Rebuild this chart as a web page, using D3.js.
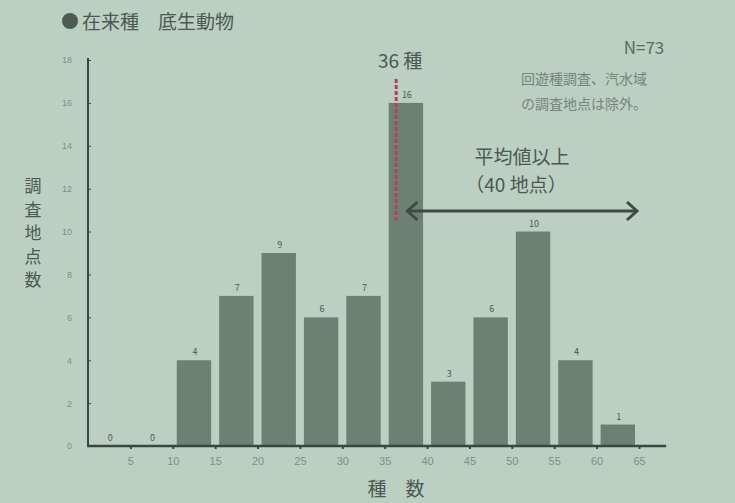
<!DOCTYPE html>
<html><head><meta charset="utf-8">
<script src="https://cdn.jsdelivr.net/npm/d3@7"></script>
<style>
html,body{margin:0;padding:0;background:#bbd0c2;}
svg{display:block;font-family:"Noto Sans CJK JP","Noto Sans",sans-serif;}
</style></head>
<body>
<svg id="c" width="735" height="503"></svg>
<script>
const binStarts = [0,5,10,15,20,25,30,35,40,45,50,55,60];
const counts = [0,0,4,7,9,6,7,16,3,6,10,4,1];
const xTicks = [5,10,15,20,25,30,35,40,45,50,55,60,65];
const yTicks = [0,2,4,6,8,10,12,14,16,18];
const meanSpecies = 36;
const aboveMeanRange = [36.5, 65];
const title = "在来種　底生動物";
const yTitle = ["調","査","地","点","数"];
const xTitle = "種　数";
const noteN = "N=73";
const noteLines = ["回遊種調査、汽水域","の調査地点は除外。"];
const meanLabel = "36 種";
const aboveLines = ["平均値以上","（40 地点）"];

const svg = d3.select("#c");
const bg = "#bbd0c2", barCol = "#6d8074", ink = "#4c5852", faint = "#7f8d86";
svg.append("rect").attr("width",735).attr("height",503).attr("fill",bg);

const x = d3.scaleLinear().domain([0,65]).range([88,639]);
const y = d3.scaleLinear().domain([0,18]).range([446,60]);
const gap = 4;

// bars
svg.selectAll("rect.bar").data(counts).enter().append("rect")
  .attr("class","bar")
  .attr("x",(d,i)=>x(binStarts[i])+gap)
  .attr("width",(d,i)=>x(binStarts[i]+5)-x(binStarts[i])-2*gap)
  .attr("y",d=>y(d))
  .attr("height",d=>y(0)-y(d))
  .attr("fill",barCol);

// bar labels
svg.selectAll("text.bl").data(counts).enter().append("text")
  .attr("x",(d,i)=>x(binStarts[i]+2.5)+1)
  .attr("y",d=>y(d)-5)
  .attr("text-anchor","middle")
  .attr("font-size",9)
  .attr("fill",ink)
  .text(d=>d);

// axes
const yAxis = d3.axisLeft(y).tickValues(yTicks).tickSize(-3).tickPadding(16);
const gy = svg.append("g").attr("transform","translate(88,0)").call(yAxis);
gy.select(".domain").remove();
gy.selectAll(".tick line").attr("stroke","#3f4a44");
gy.selectAll(".tick text").attr("font-size",9).attr("fill",faint).attr("font-family","Liberation Sans, sans-serif");
svg.append("line").attr("x1",88).attr("x2",88).attr("y1",y(18)-2).attr("y2",y(0))
  .attr("stroke","#3a4640").attr("stroke-width",2);

const xAxis = d3.axisBottom(x).tickValues(xTicks).tickSize(3).tickPadding(8);
const gx = svg.append("g").attr("transform",`translate(0,${y(0)})`).call(xAxis);
gx.select(".domain").remove();
gx.selectAll(".tick line").attr("stroke","#3a4640").attr("stroke-width",2);
gx.selectAll(".tick text").attr("font-size",11).attr("fill",faint).attr("font-family","Liberation Sans, sans-serif");
svg.append("line").attr("x1",87).attr("x2",x(68.2)).attr("y1",y(0)).attr("y2",y(0))
  .attr("stroke","#3a4640").attr("stroke-width",2.5);

// title
svg.append("circle").attr("cx",70).attr("cy",21).attr("r",8).attr("fill","#4f5a55");
svg.append("text").attr("x",82).attr("y",29).attr("font-size",19).attr("fill",ink).text(title);

// y title
svg.append("g").selectAll("text").data(yTitle).enter().append("text")
  .attr("x",33).attr("y",(d,i)=>192+i*23.5).attr("text-anchor","middle")
  .attr("font-size",17).attr("fill",ink).text(d=>d);

// x title
svg.append("text").attr("x",396).attr("y",496).attr("text-anchor","middle")
  .attr("font-size",19).attr("fill",ink).text(xTitle);

// notes
svg.append("text").attr("x",644).attr("y",54).attr("text-anchor","middle")
  .attr("font-size",17).attr("fill","#5c6a63").text(noteN);
svg.append("g").selectAll("text").data(noteLines).enter().append("text")
  .attr("x",521).attr("y",(d,i)=>84+i*25).attr("font-size",14).attr("fill","#76847d").text(d=>d);

// mean line
const mx = x(meanSpecies)+3;
svg.append("line").attr("x1",mx).attr("x2",mx).attr("y1",79).attr("y2",y(10.5))
  .attr("stroke","#b2405a").attr("stroke-width",3).attr("stroke-dasharray","4,2");
svg.append("text").attr("x",mx+4).attr("y",68).attr("text-anchor","middle")
  .attr("font-size",19).attr("fill",ink).text(meanLabel);

// above-mean arrow
const ay = 211, ax1 = x(aboveMeanRange[0])+10, ax2 = x(aboveMeanRange[1])-2;
svg.append("line").attr("x1",ax1).attr("x2",ax2).attr("y1",ay).attr("y2",ay)
  .attr("stroke","#3f4a44").attr("stroke-width",3);
svg.append("path").attr("d",`M${ax1+10},${ay-9} L${ax1},${ay} L${ax1+10},${ay+9}`)
  .attr("fill","none").attr("stroke","#3f4a44").attr("stroke-width",3);
svg.append("path").attr("d",`M${ax2-10},${ay-9} L${ax2},${ay} L${ax2-10},${ay+9}`)
  .attr("fill","none").attr("stroke","#3f4a44").attr("stroke-width",3);
svg.append("g").selectAll("text").data(aboveLines).enter().append("text")
  .attr("x",(d,i)=>i===0?522:516).attr("y",(d,i)=>164+i*28).attr("text-anchor","middle")
  .attr("font-size",19).attr("fill",ink).text(d=>d);
</script>
</body></html>
